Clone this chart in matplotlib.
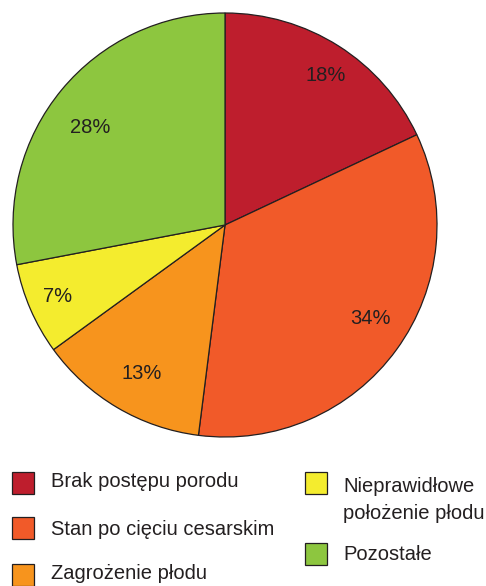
import matplotlib
matplotlib.use("Agg")
import numpy as np
import matplotlib.pyplot as plt
from matplotlib.patches import Rectangle

plt.rcParams["font.family"] = ["Liberation Sans", "DejaVu Sans"]

labels = ["Brak postępu porodu", "Stan po cięciu cesarskim", "Zagrożenie płodu",
          "Nieprawidłowe\npołożenie płodu", "Pozostałe"]
values = [18, 34, 13, 7, 28]
colors = ["#BE1E2D", "#F15A29", "#F7941D", "#F4EC2E", "#8DC63F"]
text_color = "#231F20"

# label placement per wedge: radial distance, angle offset (deg) from mid
label_dist = [0.86, 0.81, 0.79, 0.855, 0.795]
label_shift = [-1.0, 4.1, 0.6, -1.1, 2.9]

W, H = 486, 586
fig = plt.figure(figsize=(W / 100, H / 100), dpi=100)

# pie: centre ~ (225, 225) px, radius ~ 212 px
r = 212
ax = fig.add_axes([(225 - r) / W, (H - 225 - r) / H, 2 * r / W, 2 * r / H])
wedges, texts, autotexts = ax.pie(
    values, colors=colors, startangle=90, counterclock=False,
    autopct="%d%%", pctdistance=0.8,
    wedgeprops=dict(edgecolor=text_color, linewidth=0.9),
    textprops=dict(fontsize=14.5, color=text_color))
for w, t, d, s in zip(wedges, autotexts, label_dist, label_shift):
    a = np.deg2rad((w.theta1 + w.theta2) / 2 + s)
    t.set_position((d * np.cos(a), d * np.sin(a) - 3 / r))
ax.set_xlim(-1, 1)
ax.set_ylim(-1, 1)
ax.set_aspect("equal")
ax.axis("off")

# legend drawn by hand: (square x, square top y, text x, baseline y) in px
legend_pos = [(12, 472, 51, 487), (12, 517, 51, 535), (12, 564, 51, 579),
              (305, 472, 343, 492), (305, 543, 343, 560)]
sq = 22
for (sx, sy, tx, ty), lab, col in zip(legend_pos, labels, colors):
    fig.patches.append(Rectangle((sx / W, (H - sy - sq) / H), sq / W, sq / H,
                                 transform=fig.transFigure, facecolor=col,
                                 edgecolor=text_color, linewidth=0.9))
    for i, line in enumerate(lab.split("\n")):
        fig.text(tx / W, (H - ty - 27 * i) / H, line, fontsize=14.5,
                 color=text_color, ha="left", va="baseline")

fig.savefig("out.png", dpi=100)
